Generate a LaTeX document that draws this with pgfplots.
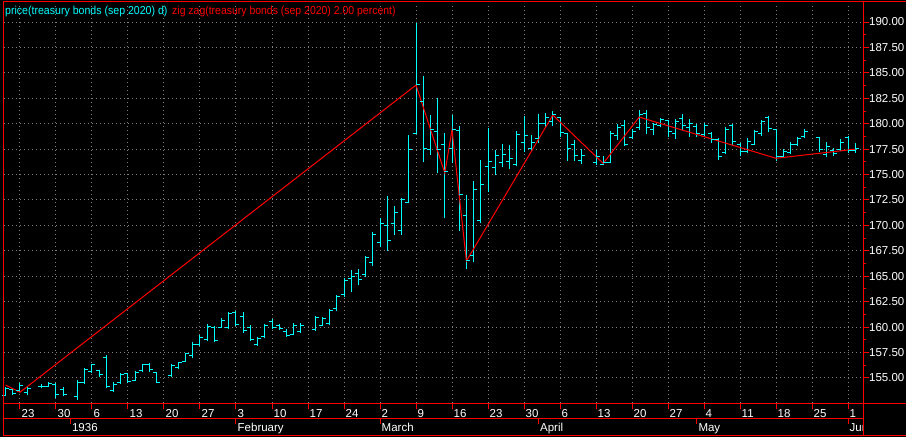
\documentclass[border=0pt]{standalone}
\usepackage{fontspec}
\setmainfont{Liberation Sans}
\usepackage{pgfplots}
\usepackage{pgfplotstable}
\pgfplotsset{compat=1.18}
\definecolor{tvcyan}{RGB}{0,255,255}
\definecolor{tvred}{RGB}{255,0,0}
\definecolor{tvgrid}{RGB}{128,128,128}

% open tick to the left, close tick to the right
\pgfdeclareplotmark{openl}{\pgfpathmoveto{\pgfpoint{-3.5bp}{0pt}}\pgfpathlineto{\pgfpoint{0.5bp}{0pt}}\pgfusepathqstroke}
\pgfdeclareplotmark{closer}{\pgfpathmoveto{\pgfpoint{-0.5bp}{0pt}}\pgfpathlineto{\pgfpoint{3.5bp}{0pt}}\pgfusepathqstroke}

% trading day index (0 = Dec 23), open, high, low, close
\pgfplotstableread{
i o h l c
-2 153.3 154.1 153.2 154.0
-1 153.9 154.0 153.3 153.5
0 153.8 154.5 153.6 154.3
1 153.6 154.15 153.3 154.0
3 154.2 154.4 154.0 154.2
4 154.2 154.6 154.1 154.5
5 154.4 154.5 153.0 153.4
6 153.9 154.1 153.2 153.4
8 153.2 154.8 152.8 154.6
9 154.6 155.95 154.4 155.8
10 155.6 156.4 155.5 156.3
11 155.7 155.8 155.1 155.3
12 157.0 157.3 154.0 154.2
13 153.8 154.6 153.65 154.4
14 154.6 155.45 154.4 155.3
15 155.4 155.5 154.5 154.7
16 154.8 155.7 154.7 155.5
17 155.7 156.4 155.55 156.3
18 156.3 156.45 155.6 155.8
19 155.5 155.6 154.5 154.6
21 155.2 156.35 155.05 156.2
22 156.0 156.6 155.85 156.5
23 156.6 157.5 156.55 157.4
24 157.2 158.5 157.0 158.3
25 158.3 159.2 158.1 159.0
26 158.8 160.3 158.6 160.1
27 160.0 160.1 158.5 158.7
28 160.0 160.9 159.9 160.7
29 160.0 161.45 159.8 161.3
30 161.4 161.6 160.1 160.3
31 161.0 161.45 159.45 159.7
32 160.0 160.2 158.6 158.8
33 158.3 159.05 158.1 158.9
34 159.1 160.3 158.95 160.2
35 160.6 160.8 159.8 160.0
36 160.2 160.3 159.7 159.9
37 159.6 159.8 159.05 159.2
38 159.3 160.4 159.2 160.2
39 159.6 160.4 159.45 160.2
41 159.8 161.1 159.65 160.9
42 160.2 161.0 160.1 160.8
43 160.4 161.75 160.2 161.6
44 161.8 163.15 161.6 163.0
45 163.2 164.8 163.0 164.6
46 164.8 165.6 163.5 165.0
47 165.3 165.7 164.1 164.7
48 165.2 167.0 164.95 166.8
49 166.4 169.4 166.0 169.1
50 168.3 170.7 167.85 170.2
51 170.0 172.9 167.5 168.5
52 170.2 171.9 169.05 171.3
53 169.5 172.7 169.05 172.5
54 172.3 178.9 172.2 177.5
55 179.0 189.9 179.0 183.9
56 182.2 184.7 176.2 177.6
57 177.5 180.85 176.9 179.4
58 179.2 182.5 175.2 177.5
59 178.0 179.05 170.7 175.3
60 177.6 180.9 176.1 179.4
61 179.3 179.8 169.5 173.0
62 171.0 173.0 165.7 166.6
63 167.0 174.4 166.4 173.5
64 170.5 176.4 170.2 174.0
65 175.8 179.6 173.3 176.3
66 175.7 177.4 175.0 176.9
67 176.2 178.0 175.7 177.0
68 176.3 177.9 175.5 176.6
69 176.0 179.3 175.8 178.9
70 178.2 180.75 177.2 178.8
71 177.6 178.9 177.35 178.2
72 178.5 181.0 178.1 180.0
73 180.0 181.1 179.7 180.6
74 180.2 181.25 179.8 180.9
75 180.6 180.7 178.7 179.1
76 179.0 179.0 176.3 177.6
77 178.0 178.4 176.3 176.9
78 176.4 177.5 176.0 176.9
80 176.2 177.4 175.9 176.8
81 176.0 176.8 175.9 176.2
82 176.2 179.3 176.1 179.0
83 178.8 180.0 178.4 179.6
84 179.8 180.4 177.8 178.0
85 178.6 179.45 178.5 179.2
86 179.6 181.35 179.4 180.9
87 181.0 181.35 179.0 179.6
88 179.4 180.1 178.9 179.9
89 179.8 180.6 179.65 180.4
90 180.3 180.4 178.7 179.2
91 179.0 180.5 178.5 180.2
92 180.5 180.95 179.4 179.8
93 179.6 180.5 178.7 180.0
94 179.7 180.0 178.65 179.0
95 178.9 180.1 178.7 179.8
96 179.0 179.15 178.1 178.4
97 178.4 178.55 176.4 176.8
98 177.2 179.65 177.0 179.4
99 179.8 180.0 177.95 178.3
100 178.0 178.1 176.8 177.3
101 177.3 178.55 177.15 178.3
102 178.0 179.4 177.9 179.2
103 179.0 180.4 178.8 180.2
104 180.6 180.75 179.15 179.5
105 179.4 179.45 176.3 176.8
106 176.8 177.5 176.7 177.3
107 177.2 178.2 177.0 178.0
108 178.0 178.7 177.8 178.5
109 178.7 179.45 178.55 179.2
111 178.6 178.7 177.25 177.5
112 177.0 178.2 176.7 177.8
113 177.4 177.65 176.85 177.1
114 177.5 178.45 177.35 178.2
115 178.6 178.8 177.1 177.4
116 177.4 178.1 177.1 177.6
}\ohlc

\begin{document}
\begin{tikzpicture}
\fill[black] (0,0) rectangle (906bp,437bp);
\begin{axis}[
  at={(4bp,34bp)}, anchor=south west,
  scale only axis, width=859bp, height=400bp,
  xmin=-2.22, xmax=117.08, ymin=152.54, ymax=191.87,
  axis line style={draw=none},
  tick align=outside,
  xtick pos=bottom, ytick pos=right,
  xtick={0,5,...,115},
  xticklabels={23,30,6,13,20,27,3,10,17,24,2,9,16,23,30,6,13,20,27,4,11,18,25,1},
  ytick={155,157.5,...,190},
  minor y tick num=1,
  major tick length=6bp, minor tick length=3bp,
  tick style={tvred, line width=1bp},
  grid=major,
  major grid style={tvgrid, line width=1bp, dash pattern=on 1bp off 3bp},
  tick label style={white, font=\fontsize{11.5bp}{13bp}\selectfont, inner sep=0pt},
  xticklabel style={anchor=north west, xshift=1.5bp},
  yticklabel style={anchor=west},
  yticklabel={\pgfmathprintnumber[fixed,fixed zerofill,precision=2,assume math mode=true]{\tick}},
  extra x ticks={7,30,50,72,94,115},
  extra x tick labels={1936,February,March,April,May,Jun},
  extra x tick style={grid=none, tick style={yshift=-15bp}, xticklabel style={yshift=-14bp}},
]
\addplot[tvcyan, line width=1bp, mark=none, quiver={u=0, v=\thisrow{h}-\thisrow{l}}]
  table[x=i, y=l] {\ohlc};
\addplot[only marks, mark=openl, mark options={tvcyan, line width=1bp}] table[x=i, y=o] {\ohlc};
\addplot[only marks, mark=closer, mark options={tvcyan, line width=1bp}] table[x=i, y=c] {\ohlc};
\addplot[tvred, line width=1bp, mark=none] coordinates {
  (-2,154.3) (0,153.6) (55,183.8) (59,175.15) (60,179.4) (62,166.5)
  (74,180.85) (81,176.1) (86,180.65) (105,176.6) (116,177.5)};
\end{axis}
\fill[black] (864bp,2bp) rectangle (906bp,33bp);
\begin{scope}[tvred, line width=1bp]
\draw (3bp,33.5bp) -- (906bp,33.5bp);
\draw (3bp,18.5bp) -- (863.5bp,18.5bp);
\draw (3bp,1.5bp) -- (906bp,1.5bp);
\draw (3bp,435.5bp) -- (906bp,435.5bp);
\draw (3.5bp,1.5bp) -- (3.5bp,435.5bp);
\draw (863.5bp,1.5bp) -- (863.5bp,435.5bp);
\end{scope}
\node[anchor=base west, inner sep=0pt, text=tvcyan, font=\fontsize{11.5bp}{13bp}\selectfont] at (5bp,422.3bp) {\scalebox{0.92}[1]{price(treasury bonds (sep 2020) d)}};
\node[anchor=base west, inner sep=0pt, text=tvred, font=\fontsize{11.5bp}{13bp}\selectfont] at (172bp,422.3bp) {\scalebox{0.91}[1]{zig zag(treasury bonds (sep 2020) 2.00 percent)}};
\pgfresetboundingbox
\useasboundingbox (0,0) rectangle (906bp,437bp);
\end{tikzpicture}
\end{document}
